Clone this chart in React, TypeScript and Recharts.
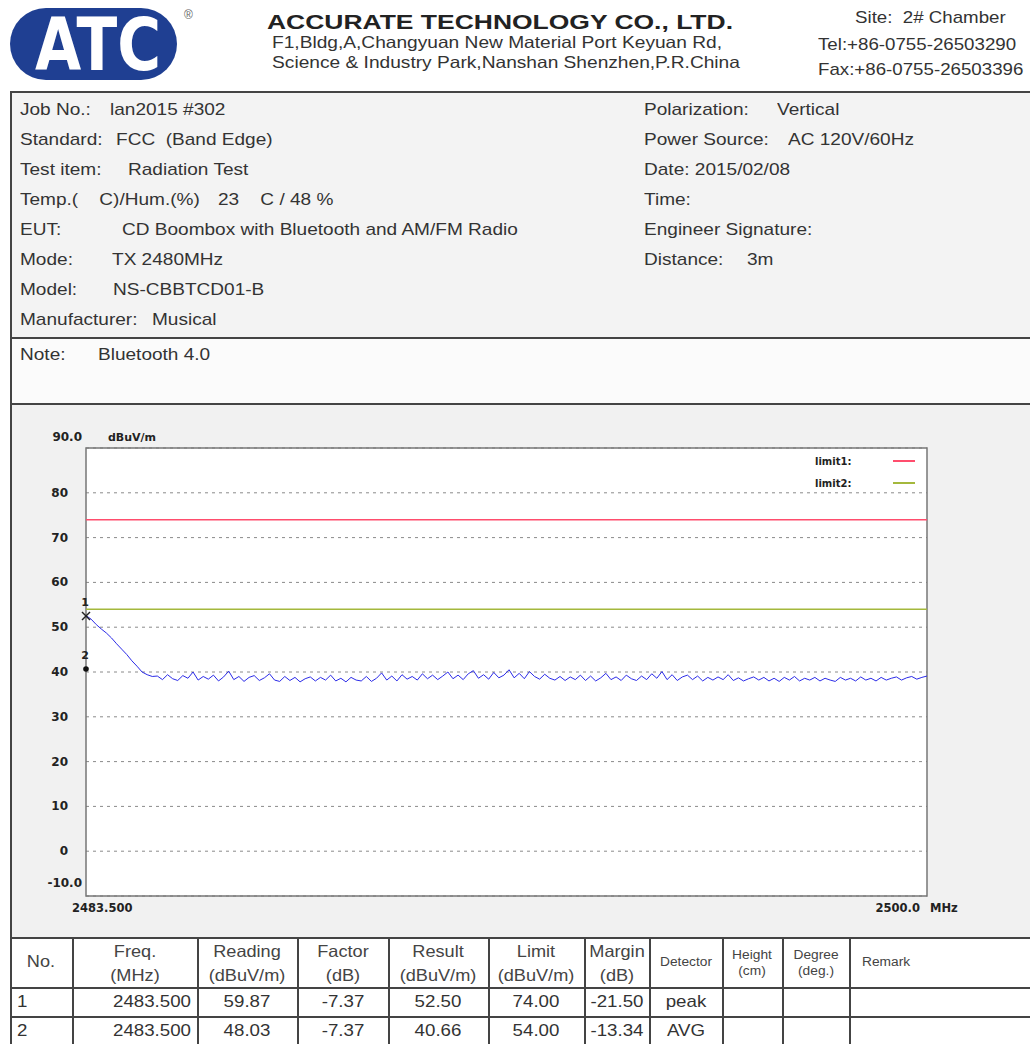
import React from "react";
import {
  ComposedChart,
  Line,
  Scatter,
  XAxis,
  YAxis,
  CartesianGrid,
  ReferenceLine,
  ReferenceArea,
  Legend,
} from "recharts";

const FONT = 'Arial, "Liberation Sans", sans-serif';
const PIX = '"DejaVu Sans", sans-serif';

// sweep 2483.5 -> 2500 MHz, 0.1 MHz per point
const freqStart = 2483.5;
const freqStep = 0.1;
const levels = [
  52.6, 51.8, 50.6, 49.6, 48.7, 47.6, 46.3, 45.1, 43.9, 42.5, 41.3, 40.0, 39.4, 39.0,
  39.1, 38.3, 39.4, 38.5, 38.1, 39.2, 38.6, 40.0, 38.2, 39.0,
  38.4, 39.3, 38.0, 38.9, 40.2, 38.3, 39.0, 37.9, 38.8, 39.2,
  38.1, 38.7, 39.6, 38.2, 37.9, 39.0, 38.1, 38.8, 37.8, 38.5,
  38.9, 38.0, 38.8, 38.2, 39.3, 38.0, 38.6, 37.8, 38.8, 38.2,
  38.0, 39.0, 37.9, 38.6, 39.8, 38.2, 39.1, 38.0, 39.4, 38.4,
  39.0, 38.2, 39.6, 38.5, 39.3, 38.3, 39.1, 40.0, 38.5, 39.3,
  38.3, 39.6, 40.3, 38.6, 39.4, 38.4, 39.9, 38.7, 39.3, 40.5,
  38.7, 39.7, 38.5, 40.1, 39.0, 38.4, 39.5, 38.6, 38.2, 39.0,
  38.1, 38.9, 38.3, 39.3, 38.1, 39.1, 38.0, 38.7, 39.7, 38.3,
  38.9, 38.1, 39.3, 38.5, 38.1, 39.1, 38.3, 39.6, 38.6, 40.1,
  38.3, 39.4, 38.1, 38.9, 39.3, 38.3, 39.1, 38.0, 38.8, 38.2,
  38.9, 38.3, 39.4, 38.1, 38.7, 38.0, 38.5, 38.9, 38.2, 38.8,
  38.0, 38.6, 37.9, 38.8, 38.2, 39.0, 38.0, 38.6, 38.2, 38.8,
  38.0, 38.6, 38.2, 37.9, 38.8, 38.2, 38.6, 38.0, 38.9, 38.2,
  38.6, 38.0, 38.8, 38.2, 38.6, 38.9, 38.2, 38.7, 39.0, 38.4, 38.8, 39.1,
];
const yTicks = [-10, 0, 10, 20, 30, 40, 50, 60, 70, 80, 90];
const xTicks = [2483.5, 2500];
const limits = [
  { name: "limit1:", value: 74, color: "#ff4d6d" },
  { name: "limit2:", value: 54, color: "#a4b83c" },
];
const markers = [
  { no: "1", f: 2483.5, v: 52.5, kind: "x" },
  { no: "2", f: 2483.5, v: 40.66, kind: "dot" },
];

const headers = [
  "No.", "Freq.\n(MHz)", "Reading\n(dBuV/m)", "Factor\n(dB)", "Result\n(dBuV/m)",
  "Limit\n(dBuV/m)", "Margin\n(dB)", "Detector", "Height\n(cm)", "Degree\n(deg.)", "Remark",
];
const rows = [
  ["1", "2483.500", "59.87", "-7.37", "52.50", "74.00", "-21.50", "peak", "", "", ""],
  ["2", "2483.500", "48.03", "-7.37", "40.66", "54.00", "-13.34", "AVG", "", "", ""],
];

const leftInfo = [
  ["Job No.:", "lan2015 #302", 110],
  ["Standard:", "FCC  (Band Edge)", 116],
  ["Test item:", "Radiation Test", 128],
  ["Temp.(    C)/Hum.(%)", "23    C / 48 %", 218],
  ["EUT:", "CD Boombox with Bluetooth and AM/FM Radio", 122],
  ["Mode:", "TX 2480MHz", 112],
  ["Model:", "NS-CBBTCD01-B", 113],
  ["Manufacturer:", "Musical", 152],
];
const rightInfo = [
  ["Polarization:", "Vertical", 777],
  ["Power Source:", "AC 120V/60Hz", 788],
  ["Date: 2015/02/08", "", 0],
  ["Time:", "", 0],
  ["Engineer Signature:", "", 0],
  ["Distance:", "3m", 747],
];

const colX = [10, 72, 197, 297, 388, 488, 584, 649, 722, 782, 849, 1030];

function Txt({ x, y, size, sx = 1, bold = false, anchor = "start", color = "#333", family = FONT, children }: any) {
  const tx = anchor === "start" ? "0" : anchor === "middle" ? "-50%" : "-100%";
  const origin = anchor === "start" ? "left center" : anchor === "middle" ? "center" : "right center";
  return (
    <div
      style={{
        position: "absolute",
        left: x,
        top: y - size * 0.6,
        fontSize: size,
        lineHeight: `${size * 1.2}px`,
        whiteSpace: "pre",
        fontWeight: bold ? 700 : 400,
        color,
        fontFamily: family,
        transform: `translateX(${tx}) scaleX(${sx})`,
        transformOrigin: origin,
      }}
    >
      {children}
    </div>
  );
}

function HLine({ y, x1 = 10, x2 = 1030, w = 2, color = "#444" }: any) {
  return <div style={{ position: "absolute", left: x1, top: y, width: x2 - x1, height: w, background: color }} />;
}
function VLine({ x, y1, y2, w = 2, color = "#444" }: any) {
  return <div style={{ position: "absolute", left: x, top: y1, width: w, height: y2 - y1, background: color }} />;
}

const YTick = ({ x, y, payload }: any) => {
  const v = payload.value;
  const edge = v === 90 || v === -10;
  const label = edge ? v.toFixed(1) : String(v);
  const dx = edge ? -4 : -18;
  const dy = v === 90 ? -11 : v === -10 ? -13 : 0;
  return (
    <g>
      <text x={x + dx} y={y + dy} textAnchor="end" dominantBaseline="central" fontFamily={PIX} fontWeight="bold" fontSize={12} fill="#222">
        {label}
      </text>
      {v === 90 && (
        <text x={x + 22} y={y + dy} dominantBaseline="central" fontFamily={PIX} fontWeight="bold" fontSize={11} fill="#222">
          dBuV/m
        </text>
      )}
    </g>
  );
};

const XTick = ({ x, y, payload }: any) => {
  const v = payload.value;
  if (v === xTicks[0]) {
    return (
      <text x={x - 14} y={y + 12} dominantBaseline="central" fontFamily={PIX} fontWeight="bold" fontSize={11.5} fill="#222">
        {v.toFixed(3)}
      </text>
    );
  }
  return (
    <g>
      <text x={x - 7} y={y + 12} textAnchor="end" dominantBaseline="central" fontFamily={PIX} fontWeight="bold" fontSize={11.5} fill="#222">
        {v.toFixed(1)}
      </text>
      <text x={x + 3} y={y + 12} dominantBaseline="central" fontFamily={PIX} fontWeight="bold" fontSize={11.5} fill="#222">
        MHz
      </text>
    </g>
  );
};

const MarkerShape = (props: any) => {
  const { cx, cy, payload } = props;
  if (cx == null || cy == null) return <g />;
  return (
    <g>
      {payload.kind === "x" ? (
        <g stroke="#222" strokeWidth={1.5}>
          <line x1={cx - 4} y1={cy - 4} x2={cx + 4} y2={cy + 4} />
          <line x1={cx - 4} y1={cy + 4} x2={cx + 4} y2={cy - 4} />
        </g>
      ) : (
        <circle cx={cx} cy={cy} r={2.8} fill="#111" />
      )}
      <text x={cx - 1} y={cy - 14} textAnchor="middle" dominantBaseline="central" fontFamily={PIX} fontWeight="bold" fontSize={11} fill="#222">
        {payload.no}
      </text>
    </g>
  );
};

const LegendBox = () => (
  <div style={{ position: "relative", width: 110, height: 44 }}>
    {limits.map((l, i) => (
      <div key={l.name} style={{ position: "absolute", left: 0, top: i * 22, display: "flex", alignItems: "center", height: 14 }}>
        <span style={{ fontFamily: PIX, fontWeight: 700, fontSize: 10, width: 78, color: "#222" }}>{l.name}</span>
        <span style={{ display: "inline-block", width: 22, height: 2, background: l.color }} />
      </div>
    ))}
  </div>
);

function Chart() {
  const data = levels.map((v, i) => ({ f: +(freqStart + i * freqStep).toFixed(1), v }));
  return (
    <ComposedChart width={1030} height={531} data={data} margin={{ top: 44, right: 103, bottom: 9, left: 26 }}>
      <CartesianGrid vertical={false} stroke="#8a8a8a" strokeDasharray="3 4" fill="#ffffff" />
      <XAxis
        dataKey="f"
        type="number"
        domain={[2483.5, 2500]}
        ticks={xTicks}
        interval={0}
        height={30}
        tickSize={0}
        tickMargin={0}
        axisLine={false}
        tickLine={false}
        tick={(p: any) => <XTick {...p} />}
      />
      <YAxis
        type="number"
        domain={[-10, 90]}
        ticks={yTicks}
        interval={0}
        width={60}
        tickSize={0}
        tickMargin={0}
        axisLine={false}
        tickLine={false}
        tick={(p: any) => <YTick {...p} />}
      />
      {limits.map((l) => (
        <ReferenceLine key={l.name} y={l.value} stroke={l.color} strokeWidth={1.5} />
      ))}
      <Line dataKey="v" stroke="#2b2be8" strokeWidth={1} dot={false} isAnimationActive={false} />
      <Scatter data={markers} dataKey="v" shape={MarkerShape} isAnimationActive={false} />
      <ReferenceArea x1={2483.5} x2={2500} y1={-10} y2={90} fill="none" fillOpacity={0} stroke="#777" strokeWidth={1.5} />
      <Legend
        layout="vertical"
        align="center"
        verticalAlign="middle"
        content={() => <LegendBox />}
        wrapperStyle={{ left: 815, top: 50, width: 110, height: 44 }}
      />
    </ComposedChart>
  );
}

export default function App() {
  return (
    <div style={{ position: "absolute", left: 0, top: 0, width: 1030, height: 1044, overflow: "hidden", background: "#fff", fontFamily: FONT }}>
      {/* header */}
      <svg style={{ position: "absolute", left: 0, top: 0 }} width={180} height={90}>
        <rect x={10} y={8} width={167} height={72} rx={36} fill="#1f3f92" />
        <text
          transform="translate(35,70) scale(1.03,1.25)"
          fontFamily={PIX}
          fontWeight="bold"
          fontSize={58}
          fill="#fff"
        >
          ATC
        </text>
      </svg>
      <Txt x={184} y={15} size={12} color="#666">®</Txt>
      <Txt x={500} y={22} size={21} sx={1.26} bold anchor="middle" color="#222">ACCURATE TECHNOLOGY CO., LTD.</Txt>
      <Txt x={497} y={43} size={16.5} sx={1.16} anchor="middle">F1,Bldg,A,Changyuan New Material Port Keyuan Rd,</Txt>
      <Txt x={506} y={63} size={16.5} sx={1.16} anchor="middle">Science &amp; Industry Park,Nanshan Shenzhen,P.R.China</Txt>
      <Txt x={855} y={18} size={17} sx={1.1}>Site:  2# Chamber</Txt>
      <Txt x={818} y={45} size={17} sx={1.1}>Tel:+86-0755-26503290</Txt>
      <Txt x={818} y={70} size={17} sx={1.1}>Fax:+86-0755-26503396</Txt>

      {/* panels */}
      <div style={{ position: "absolute", left: 11, top: 92, width: 1019, height: 246, background: "#f3f3f3" }} />
      <div style={{ position: "absolute", left: 11, top: 338, width: 1019, height: 66, background: "#fbfbfb" }} />
      <div style={{ position: "absolute", left: 11, top: 404, width: 1019, height: 534, background: "#f1f1f1" }} />

      {leftInfo.map(([label, value, vx], i) => (
        <React.Fragment key={String(label)}>
          <Txt x={20} y={110 + i * 30} size={17} sx={1.12}>{label}</Txt>
          <Txt x={vx} y={110 + i * 30} size={17} sx={1.12}>{value}</Txt>
        </React.Fragment>
      ))}
      {rightInfo.map(([label, value, vx], i) => (
        <React.Fragment key={String(label)}>
          <Txt x={644} y={110 + i * 30} size={17} sx={1.12}>{label}</Txt>
          {value ? <Txt x={vx} y={110 + i * 30} size={17} sx={1.12}>{value}</Txt> : null}
        </React.Fragment>
      ))}
      <Txt x={20} y={355} size={17} sx={1.12}>Note:</Txt>
      <Txt x={98} y={355} size={17} sx={1.12}>Bluetooth 4.0</Txt>

      {/* chart */}
      <div style={{ position: "absolute", left: 0, top: 404 }}>
        <Chart />
      </div>

      {/* frame lines */}
      <HLine y={91} />
      <HLine y={337} />
      <HLine y={403} />
      <HLine y={937} />
      <HLine y={987} w={1.5} />
      <HLine y={1016} w={1.5} />
      <VLine x={10} y1={91} y2={1044} />
      {colX.slice(1, -1).map((x) => (
        <VLine key={x} x={x} y1={937} y2={1044} w={1.5} />
      ))}

      {/* table */}
      {headers.map((h, i) => {
        const lines = h.split("\n");
        const cx = (colX[i] + colX[i + 1]) / 2;
        const small = i >= 7;
        const size = small ? 12.5 : 16.5;
        const hx = i === 10 ? colX[i] + 13 : cx;
        const anchor = i === 10 ? "start" : "middle";
        if (lines.length === 1)
          return (
            <Txt key={h} x={hx} y={962} size={size} sx={1.1} anchor={anchor} color="#444">{h}</Txt>
          );
        return (
          <React.Fragment key={h}>
            <Txt x={hx} y={small ? 955 : 952} size={size} sx={1.1} anchor={anchor} color="#444">{lines[0]}</Txt>
            <Txt x={hx} y={small ? 971 : 976} size={size} sx={1.1} anchor={anchor} color="#444">{lines[1]}</Txt>
          </React.Fragment>
        );
      })}
      {rows.map((r, ri) =>
        r.map((c, ci) => {
          if (!c) return null;
          const y = 1002 + ri * 29;
          if (ci === 0) return <Txt key={ci} x={colX[0] + 7} y={y} size={17} sx={1.1} color="#333">{c}</Txt>;
          if (ci === 1) return <Txt key={ci} x={colX[2] - 6} y={y} size={17} sx={1.1} anchor="end" color="#333">{c}</Txt>;
          return (
            <Txt key={ci} x={(colX[ci] + colX[ci + 1]) / 2} y={y} size={17} sx={1.1} anchor="middle" color="#333">{c}</Txt>
          );
        })
      )}
    </div>
  );
}
